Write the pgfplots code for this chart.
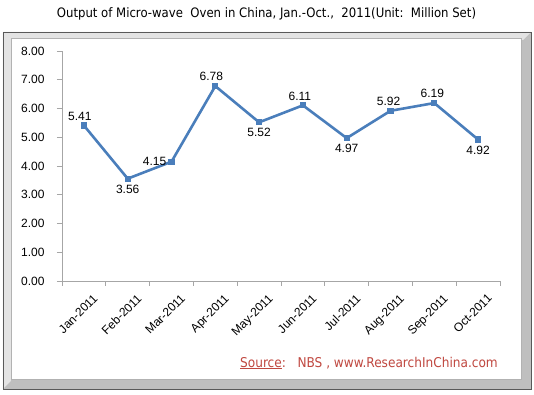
\documentclass[border=0pt]{standalone}
\usepackage{pgfplots}
\pgfplotsset{compat=1.18}
\usepackage{fontspec}
\setmainfont{Liberation Sans}
\newfontfamily\titlefont{DejaVu Sans Condensed}
\definecolor{lineblue}{RGB}{74,126,187}
\definecolor{srcred}{RGB}{192,72,64}
\begin{document}
\begin{tikzpicture}[x=1pt,y=1pt]
\useasboundingbox (-62,-114) rectangle (472,281);
% frame
\fill[gray!50] (-59,-108) rectangle (469,249);
\fill[gray!22] (-59,249) -- (469,249) -- (461,241) -- (-51,241) -- (-51,-100) -- (-59,-108) -- cycle;
\draw[gray!70!black, line width=0.8pt] (-59,-108) rectangle (469,249);
\fill[white] (-51,-98) rectangle (459,243);
\draw[gray!60, line width=0.6pt] (-51,-98) rectangle (459,243);
\node[font=\titlefont\fontsize{13}{15}\selectfont, anchor=center] at (204.5,267) {Output of Micro-wave\ \ Oven in China, Jan.-Oct.,\ \ 2011(Unit:\ \ Million Set)};
\begin{axis}[
  at={(0,0)}, anchor=south west,
  scale only axis, width=438pt, height=230pt,
  xmin=-0.5, xmax=9.5, ymin=0, ymax=8,
  axis lines*=left,
  axis line style={gray!70, line width=0.7pt, -},
  tick align=outside,
  xtick={0,...,9},
  xticklabels={Jan-2011,Feb-2011,Mar-2011,Apr-2011,May-2011,Jun-2011,Jul-2011,Aug-2011,Sep-2011,Oct-2011},
  major x tick style={draw=none},
  minor xtick={-0.5,0.5,...,9.5},
  minor tick length=5pt,
  minor x tick style={gray!70, line width=0.7pt},
  ytick={0,1,...,8},
  major tick length=5pt,
  major y tick style={gray!70, line width=0.7pt},
  y tick label style={/pgf/number format/fixed, /pgf/number format/fixed zerofill, /pgf/number format/precision=2, xshift=-9pt},
  /pgf/number format/assume math mode=true,
  ticklabel style={font=\fontsize{12}{14}\selectfont},
  x tick label style={rotate=45, anchor=north east, inner sep=1pt, xshift=2pt, yshift=-10pt},
  clip=false,
]
\addplot[lineblue, line width=2.6pt, mark=square*, mark size=1.8pt, mark options={solid, fill=lineblue}] coordinates {
(0,5.41) (1,3.56) (2,4.15) (3,6.78) (4,5.52) (5,6.11) (6,4.97) (7,5.92) (8,6.19) (9,4.92)};
\begin{scope}[every node/.style={font=\fontsize{12}{14}\selectfont, inner sep=1pt}]
\node[anchor=south, yshift=4pt, xshift=-4pt] at (axis cs:0,5.41) {5.41};
\node[anchor=north, yshift=-5pt] at (axis cs:1,3.56) {3.56};
\node[anchor=east, xshift=-4pt] at (axis cs:2,4.15) {4.15};
\node[anchor=south, yshift=4pt, xshift=-4pt] at (axis cs:3,6.78) {6.78};
\node[anchor=north, yshift=-5pt] at (axis cs:4,5.52) {5.52};
\node[anchor=south, yshift=4pt, xshift=-3pt] at (axis cs:5,6.11) {6.11};
\node[anchor=north, yshift=-5pt] at (axis cs:6,4.97) {4.97};
\node[anchor=south, yshift=4pt, xshift=-2pt] at (axis cs:7,5.92) {5.92};
\node[anchor=south, yshift=4pt, xshift=-2pt] at (axis cs:8,6.19) {6.19};
\node[anchor=north, yshift=-5pt] at (axis cs:9,4.92) {4.92};
\end{scope}
\end{axis}
\node[anchor=base east, text=srcred, font=\titlefont\fontsize{13.5}{15}\selectfont, inner sep=0pt] at (436,-86) {\underline{Source}:\ \ \ NBS , www.ResearchInChina.com};
\end{tikzpicture}
\end{document}
